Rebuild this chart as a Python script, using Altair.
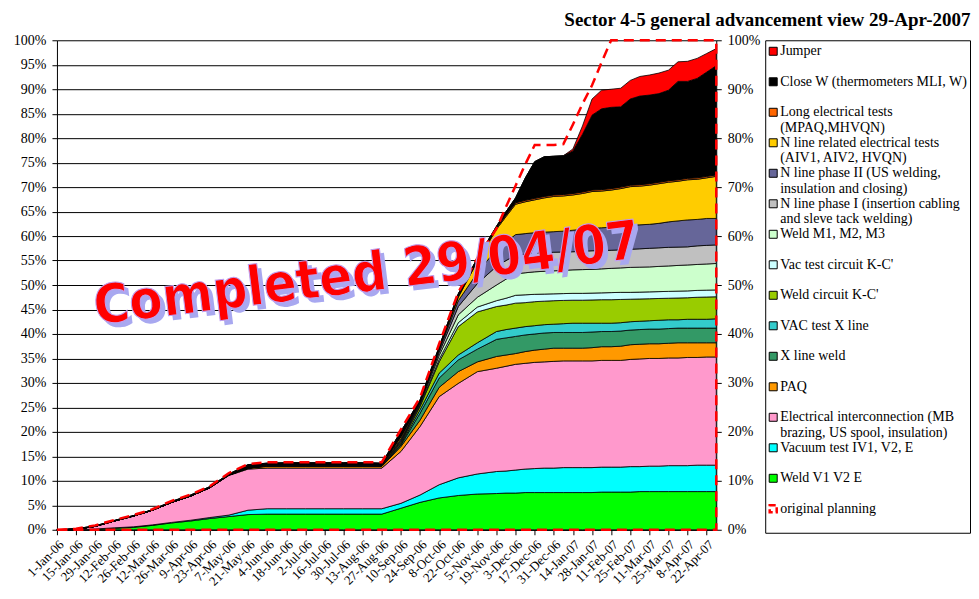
import altair as alt
import pandas as pd

# ---------------- data (cumulative tops of the stacked bands, in %) ----------------
dates = [
    "2006-01-01", "2006-01-15", "2006-01-29", "2006-02-12", "2006-02-26", "2006-03-12",
    "2006-03-26", "2006-04-09", "2006-04-23", "2006-05-07", "2006-05-21", "2006-06-04",
    "2006-06-18", "2006-07-02", "2006-07-16", "2006-07-30", "2006-08-13", "2006-08-27",
    "2006-09-10", "2006-09-24", "2006-10-08", "2006-10-22", "2006-11-05", "2006-11-19",
    "2006-11-26", "2006-12-03", "2006-12-10", "2006-12-17", "2006-12-24", "2006-12-31",
    "2007-01-07", "2007-01-14", "2007-01-21", "2007-01-28", "2007-02-04", "2007-02-11",
    "2007-02-18", "2007-02-25", "2007-03-04", "2007-03-11", "2007-03-18", "2007-03-25",
    "2007-04-01", "2007-04-08", "2007-04-15", "2007-04-22", "2007-04-29",
]

tick_dates = [
    "2006-01-01", "2006-01-15", "2006-01-29", "2006-02-12", "2006-02-26", "2006-03-12",
    "2006-03-26", "2006-04-09", "2006-04-23", "2006-05-07", "2006-05-21", "2006-06-04",
    "2006-06-18", "2006-07-02", "2006-07-16", "2006-07-30", "2006-08-13", "2006-08-27",
    "2006-09-10", "2006-09-24", "2006-10-08", "2006-10-22", "2006-11-05", "2006-11-19",
    "2006-12-03", "2006-12-17", "2006-12-31", "2007-01-14", "2007-01-28", "2007-02-11",
    "2007-02-25", "2007-03-11", "2007-03-25", "2007-04-08", "2007-04-22",
]

early = [0, 0.1, 0.7, 1.8, 2.8, 4.0, 5.6, 6.9, 8.6, 11.2, 12.6]

weld_v = [0, 0, 0.1, 0.3, 0.5, 0.9, 1.4, 1.8, 2.3, 2.7, 3.1] + [3.2] * 7 + \
    [4.4, 5.6, 6.5, 7.0, 7.3, 7.4, 7.5, 7.5] + [7.6] * 8 + [7.7] * 4 + [7.8] * 9
vac_test = [0, 0, 0.15, 0.4, 0.6, 1.0, 1.5, 1.95, 2.5, 3.0, 4.0] + [4.3] * 7 + \
    [5.4, 7.1, 9.2, 10.6, 11.4, 11.9, 12.0, 12.2] + \
    [12.4, 12.5, 12.6, 12.6, 12.7, 12.7, 12.7, 12.7] + [12.8, 12.8, 12.8, 12.9] + \
    [12.9, 13.0, 13.0, 13.1, 13.1, 13.1, 13.2, 13.2, 13.2]
elec = [0, 0.1, 0.7, 1.8, 2.8, 4.0, 5.6, 6.9, 8.6, 11.1, 12.4] + [12.6] * 7 + \
    [16.0, 21.1, 27.2, 29.9, 32.3, 33.0, 33.4, 33.8] + \
    [34.0, 34.2, 34.3, 34.4, 34.5, 34.5, 34.5, 34.5] + [34.6, 34.6, 34.6, 34.8] + \
    [34.9, 35.0, 35.0, 35.1, 35.1, 35.2, 35.2, 35.3, 35.3]
paq = early + [12.95] * 7 + \
    [17.0, 22.4, 29.1, 32.3, 34.3, 35.4, 35.7, 36.0] + \
    [36.4, 36.7, 36.9, 37.1, 37.1, 37.1, 37.1, 37.2] + [37.4, 37.4, 37.5, 37.8] + \
    [37.9, 38.0, 38.0, 38.1, 38.2, 38.2, 38.2, 38.2, 38.2]
x_weld = early + [13.0] * 7 + \
    [17.3, 23.8, 31.0, 34.7, 36.9, 38.9, 39.2, 39.5] + \
    [39.8, 40.0, 40.2, 40.3, 40.3, 40.3, 40.3, 40.4] + [40.5, 40.5, 40.6, 40.8] + \
    [40.9, 41.0, 41.0, 41.1, 41.2, 41.2, 41.2, 41.2, 41.2]
vac_x = early + [13.05] * 7 + \
    [17.5, 24.5, 32.0, 35.7, 38.2, 40.5, 40.9, 41.2] + \
    [41.5, 41.7, 41.9, 42.0, 42.1, 42.2, 42.2, 42.2] + [42.2, 42.2, 42.3, 42.5] + \
    [42.6, 42.7, 42.8, 42.9, 42.9, 43.0, 43.0, 43.0, 43.1]
weld_kc = early + [13.1] * 7 + \
    [17.8, 25.2, 34.3, 41.5, 44.5, 45.6, 45.9, 46.3] + \
    [46.4, 46.6, 46.7, 46.8, 46.85, 46.9, 46.9, 46.95] + [47.0, 47.0, 47.05, 47.1] + \
    [47.15, 47.2, 47.25, 47.3, 47.35, 47.4, 47.5, 47.55, 47.6]
vac_kc = early + [13.1] * 7 + \
    [17.9, 25.4, 34.8, 42.3, 45.5, 46.8, 47.3, 47.9] + \
    [48.0, 48.1, 48.15, 48.2, 48.25, 48.3, 48.3, 48.35] + [48.4, 48.45, 48.5, 48.5] + \
    [48.55, 48.6, 48.65, 48.7, 48.75, 48.8, 48.9, 48.95, 49.0]
weld_m = early + [13.15] * 7 + \
    [18.1, 25.7, 35.6, 43.9, 47.5, 50.0, 51.2, 52.3] + \
    [52.5, 52.7, 52.8, 52.9, 53.0, 53.1, 53.15, 53.2] + [53.3, 53.4, 53.5, 53.6] + \
    [53.65, 53.7, 53.8, 53.9, 54.0, 54.1, 54.2, 54.3, 54.4]
n_phase1 = early + [13.2] * 7 + \
    [18.3, 25.9, 36.2, 45.6, 50.3, 53.8, 55.0, 56.1] + \
    [56.3, 56.5, 56.6, 56.7, 56.75, 56.8, 56.9, 57.0] + [57.05, 57.1, 57.2, 57.3] + \
    [57.4, 57.5, 57.6, 57.7, 57.75, 57.8, 58.0, 58.1, 58.2]
n_phase2 = early + [13.25] * 7 + \
    [18.6, 26.1, 36.7, 46.8, 52.5, 57.3, 58.8, 60.3] + \
    [60.5, 60.7, 60.8, 60.9, 61.0, 61.2, 61.4, 61.6] + [61.7, 61.8, 62.0, 62.2] + \
    [62.3, 62.4, 62.6, 62.9, 63.1, 63.3, 63.4, 63.6, 63.6]
n_elec = early + [13.3] * 7 + \
    [19.0, 26.2, 37.0, 47.5, 54.8, 61.4, 64.0, 66.5] + \
    [67.0, 67.4, 67.8, 68.1, 68.2, 68.4, 68.7, 69.1] + [69.2, 69.4, 69.7, 70.1] + \
    [70.2, 70.4, 70.7, 71.0, 71.2, 71.5, 71.6, 71.9, 72.2]
long_elec = early + [13.35] * 7 + \
    [19.1, 26.3, 37.1, 47.7, 55.0, 61.7, 64.3, 66.8] + \
    [67.3, 67.7, 68.1, 68.4, 68.5, 68.7, 69.0, 69.4] + [69.5, 69.7, 70.0, 70.4] + \
    [70.5, 70.7, 71.0, 71.3, 71.5, 71.8, 71.9, 72.2, 72.5]
close_w = [0, 0.2, 0.8, 1.9, 2.9, 4.1, 5.8, 7.1, 8.8, 11.4, 13.3] + \
    [13.6, 13.7, 13.7, 13.7, 13.7, 13.7, 13.6] + \
    [20.1, 26.5, 37.4, 48.2, 55.5, 62.0, 65.0, 67.8] + \
    [71.8, 75.2, 76.2, 76.3, 76.4, 77.4, 80.8, 84.7] + [86.0, 86.3, 86.4, 88.0] + \
    [88.6, 88.8, 89.1, 89.8, 91.6, 91.6, 92.2, 93.5, 94.8]
jumper = close_w[:31] + [77.8, 82.5, 88.0, 89.8, 90.0, 90.2, 91.8, 92.6, 92.9,
                         93.3, 93.9, 95.6, 95.7, 96.3, 97.3, 98.3]

planning = [0, 0.2, 0.9, 2.0, 3.0, 4.2, 5.9, 7.2, 8.9, 11.6, 13.4] + [13.8] * 7 + \
    [20.5, 27.0, 38.0, 48.5, 55.5, 61.5, 66.0, 70.3] + \
    [74.6, 78.6, 78.6, 78.6, 78.8, 82.8, 87.0, 90.8] + [95.5, 100, 100, 100] + [100] * 9

# bottom -> top
series = [
    ("Weld V1 V2 E", "#00FF00", weld_v),
    ("Vacuum test IV1, V2, E", "#00FFFF", vac_test),
    ("Electrical interconnection (MB\nbrazing, US spool, insulation)", "#FF99CC", elec),
    ("PAQ", "#FF9900", paq),
    (" X line weld", "#339966", x_weld),
    ("VAC test X line", "#33CCCC", vac_x),
    ("Weld circuit K-C'", "#99CC00", weld_kc),
    ("Vac test circuit K-C'", "#CCFFFF", vac_kc),
    ("Weld M1, M2, M3", "#CCFFCC", weld_m),
    ("N line phase I (insertion cabling\nand sleve tack welding)", "#C0C0C0", n_phase1),
    ("N line phase II (US welding,\ninsulation and closing)", "#666699", n_phase2),
    ("N line related electrical tests\n(AIV1, AIV2, HVQN)", "#FFCC00", n_elec),
    ("Long electrical tests\n(MPAQ,MHVQN)", "#FF6600", long_elec),
    ("Close W (thermometers MLI, W)", "#000000", close_w),
    ("Jumper", "#FF0000", jumper),
]
names = [s[0] for s in series]
colors = [s[1] for s in series]

rows = []
prev = [0.0] * len(dates)
for name, col, vals in series:
    for d, lo, hi in zip(dates, prev, vals):
        rows.append({"date": d, "series": name, "lo": lo, "hi": hi})
    prev = vals
df = pd.DataFrame(rows)
plan_df = pd.DataFrame({"date": dates, "plan": planning})

text_df = pd.DataFrame({"date": ["2006-08-16"], "val": [52.0], "label": ["Completed 29/04/07"]})

def ms(s):
    return int(pd.Timestamp(s, tz="UTC").timestamp() * 1000)

SERIF = "Liberation Serif"
BIG = "DejaVu Sans Condensed, Liberation Sans"

x_enc = alt.X(
    "date:T",
    scale=alt.Scale(type="utc", domain=[ms("2006-01-01"), ms("2007-04-29")], nice=False),
    axis=alt.Axis(values=[ms(t) for t in tick_dates],
                  labelExpr="utcFormat(datum.value, '%-d-%b-%y')",
                  labelAngle=315, title=None, grid=False, labelPadding=3,
                  labelFontSize=13, labelBound=False, labelOverlap=False),
)
yscale = alt.Scale(domain=[0, 100], nice=False, zero=True)

left_axis = alt.Axis(values=list(range(0, 101, 5)), labelExpr="datum.value + '%'", title=None,
                     grid=True, labelPadding=6)
right_axis = alt.Axis(values=list(range(0, 101, 10)), labelExpr="datum.value + '%'", title=None,
                      orient="right", grid=False, labelPadding=6)

areas = alt.Chart(df).mark_area(stroke="black", strokeWidth=0.8, interpolate="linear",
                                opacity=1).encode(
    x=x_enc,
    y=alt.Y("hi:Q", scale=yscale, axis=left_axis),
    y2="lo:Q",
    color=alt.Color("series:N", scale=alt.Scale(domain=names, range=colors), legend=None),
)

plan = alt.Chart(plan_df).mark_area(fillOpacity=0, color="red", stroke="red", strokeWidth=2.5,
                                    strokeDash=[10, 6]).encode(
    x=x_enc,
    y=alt.Y("plan:Q", scale=yscale, axis=right_axis),
)

shadow = alt.Chart(text_df).mark_text(
    font=BIG, fontWeight="bold", fontSize=54, angle=353, color="#a8a8f0", dx=4, dy=5,
).encode(x=x_enc, y=alt.Y("val:Q", scale=yscale, axis=None), text="label:N")

word = alt.Chart(text_df).mark_text(
    font=BIG, fontWeight="bold", fontSize=54, angle=353, color="#FF0000",
    stroke="#c0a0f0", strokeWidth=1,
).encode(x=x_enc, y=alt.Y("val:Q", scale=yscale, axis=None), text="label:N")

main = alt.layer(areas, plan, shadow, word).resolve_scale(y="independent").properties(
    width=660, height=490)

# ---------------- legend panel ----------------
leg_names = list(reversed(names)) + ["original planning"]
leg_df = pd.DataFrame({"label": leg_names, "pos": [15 - i for i in range(len(leg_names))]})
sym_df = leg_df[leg_df["label"] != "original planning"]
plan_sym_df = leg_df[leg_df["label"] == "original planning"]

leg_y = alt.Y("pos:Q", scale=alt.Scale(domain=[-0.786, 15.361], nice=False, zero=False), axis=None)

leg_sym = alt.Chart(sym_df).mark_square(size=64, stroke="black", strokeWidth=1, opacity=1,
                                        filled=True).encode(
    x=alt.value(8), y=leg_y,
    color=alt.Color("label:N", scale=alt.Scale(domain=names, range=colors), legend=None),
)
leg_plan = alt.Chart(plan_sym_df).mark_square(size=49, filled=False, stroke="red", strokeWidth=2.5,
                                              strokeDash=[6, 3], opacity=1).encode(
    x=alt.value(8), y=leg_y)
leg_text = alt.Chart(leg_df).mark_text(align="left", baseline="middle", lineBreak="\n",
                                       font=SERIF, fontSize=14, lineHeight=15.7,
                                       color="black").encode(
    x=alt.value(15), y=leg_y, text="label:N")

legend = alt.layer(leg_sym, leg_plan, leg_text).properties(
    width=205, height=493, view=alt.ViewBackground(stroke="black", strokeWidth=1))

chart = alt.hconcat(main, legend, spacing=4).properties(
    title=alt.TitleParams("Sector 4-5 general advancement view 29-Apr-2007", anchor="end",
                          font=SERIF, fontSize=19, fontWeight="bold", color="black", offset=3),
    padding={"left": 5, "top": 3, "right": 0, "bottom": 0},
    background="white",
).configure_view(stroke=None).configure_axis(
    labelFont=SERIF, labelFontSize=14, labelColor="black", domainColor="black",
    tickColor="black", gridColor="black", gridOpacity=1, tickSize=5, domainWidth=1,
)

chart.save("out.html", embed_options={"renderer": "svg", "actions": False})
